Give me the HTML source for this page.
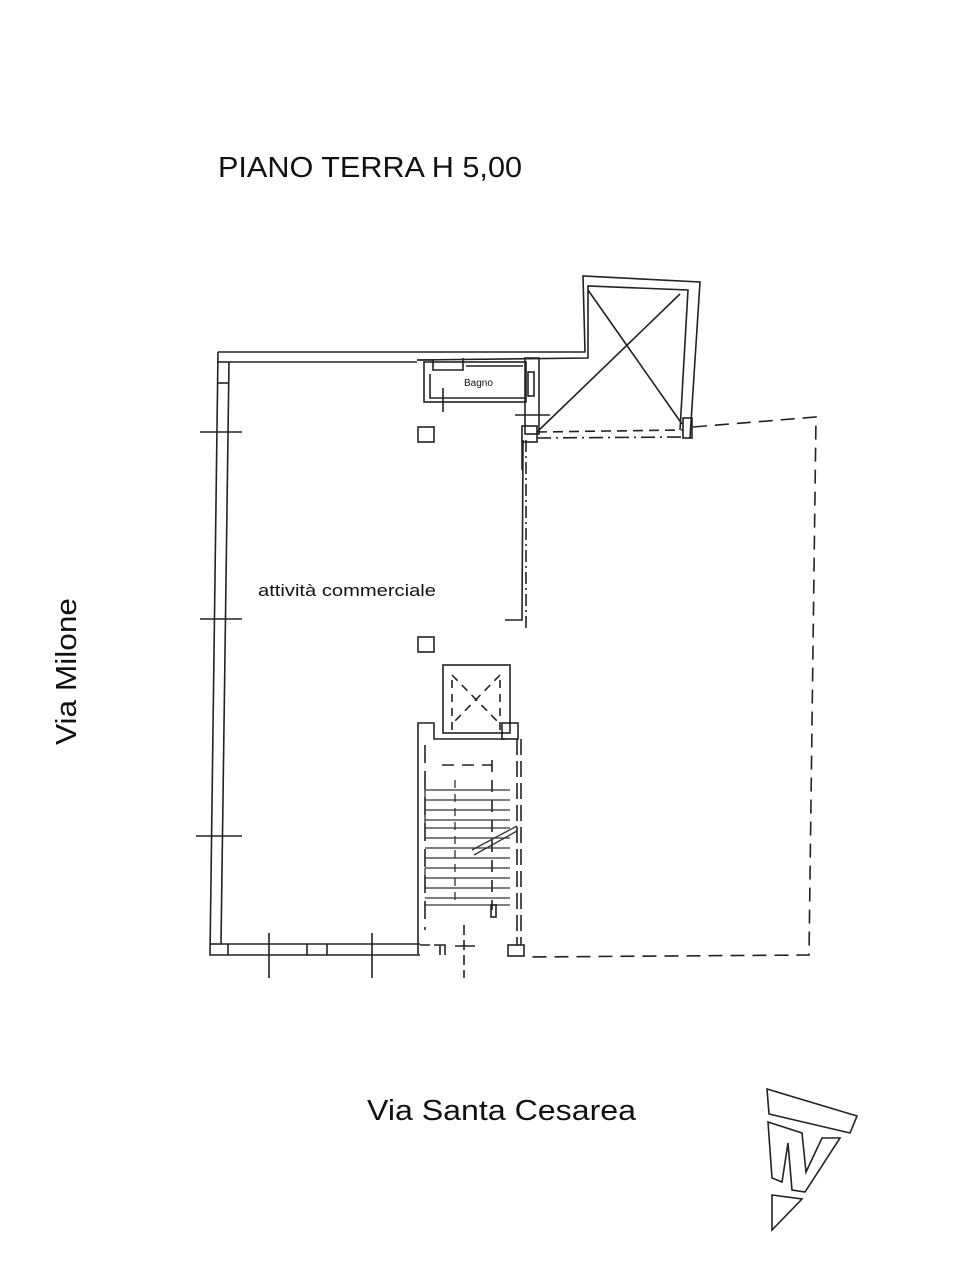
<!DOCTYPE html>
<html><head><meta charset="utf-8"><style>
html,body{margin:0;padding:0;background:#fff}
svg{display:block}
text{font-family:"Liberation Sans",sans-serif;fill:#111}
</style></head><body>
<svg width="960" height="1280" viewBox="0 0 960 1280" xmlns="http://www.w3.org/2000/svg">
<g fill="none" stroke="#222" stroke-width="1.6">
<path d="M218 352 L210 955 L420 955"/>
<path d="M229 362 L221 944 L420 944"/>
<path d="M218 352 L585 352 L583 276 L700 282 L690 438"/>
<path d="M229 362 L417 362 M417 360 L588 358 L588 286 L688 290 L680 430"/>
<line x1="218" y1="362" x2="229" y2="362"/>
<line x1="218" y1="383" x2="229" y2="383"/>
<line x1="210" y1="944" x2="221" y2="944"/>
<line x1="228" y1="944" x2="228" y2="955"/>
<line x1="307" y1="944" x2="307" y2="955"/>
<line x1="327" y1="944" x2="327" y2="955"/>
<line x1="200" y1="432" x2="242" y2="432"/>
<line x1="200" y1="619" x2="242" y2="619"/>
<line x1="196" y1="836" x2="242" y2="836"/>
<line x1="269" y1="933" x2="269" y2="978"/>
<line x1="372" y1="933" x2="372" y2="978"/>
<path d="M417 360 L433 360 L433 370 L463 370 L463 358"/>
<rect x="424" y="362" width="102" height="40"/>
<path d="M430 374 L430 398 L525 398"/>
<line x1="466" y1="366" x2="523" y2="366"/>
<rect x="525" y="358" width="14" height="76"/>
<rect x="528" y="372" width="6" height="24"/>
<line x1="443" y1="388" x2="443" y2="412"/>
<line x1="515" y1="415" x2="550" y2="415"/>
<rect x="522" y="426" width="15" height="16"/>
<line x1="522" y1="442" x2="522" y2="470"/>
<line x1="588" y1="290" x2="682" y2="424"/>
<line x1="680" y1="294" x2="537" y2="432"/>
<rect x="683" y="418" width="9" height="20"/>
<line x1="537" y1="432" x2="683" y2="430" stroke-dasharray="10,6"/>
<line x1="537" y1="438" x2="683" y2="437" stroke-dasharray="14,5,2,5"/>
<rect x="418" y="427" width="16" height="15"/>
<rect x="418" y="637" width="16" height="15"/>
<path d="M523 440 L522 620 L505 620"/>
<line x1="526" y1="440" x2="526" y2="630" stroke-dasharray="12,4,2,4"/>
<rect x="443" y="665" width="67" height="68"/>
<g stroke-dasharray="8,6">
<line x1="452" y1="675" x2="500" y2="724"/>
<line x1="500" y1="675" x2="452" y2="724"/>
<line x1="452" y1="680" x2="452" y2="730"/>
<line x1="500" y1="680" x2="500" y2="730"/>
</g>
<path d="M418 955 L418 723 L434 723 L434 739 L505 739"/>
<rect x="502" y="723" width="16" height="16"/>
<line x1="517" y1="739" x2="517" y2="945" stroke-dasharray="16,6"/>
<line x1="521" y1="739" x2="521" y2="945" stroke-dasharray="16,6"/>
<line x1="425" y1="745" x2="425" y2="930" stroke-dasharray="18,8"/>
<g stroke-dasharray="12,8">
<line x1="442" y1="765" x2="492" y2="765"/>
<line x1="492" y1="760" x2="492" y2="910"/>
</g>
<g stroke="#333" stroke-width="1.3">
<path d="M425 787 L425 800 M425 790 L510 790 M425 800 L510 800"/>
<path d="M425 810 L510 810 M425 820 L510 820 M425 810 L425 828 M425 828 L510 828"/>
<path d="M425 838 L510 838 M425 848 L510 848 M425 858 L510 858"/>
<path d="M425 868 L510 868 M425 878 L510 878 M425 868 L425 888"/>
<path d="M425 888 L510 888 M425 898 L510 898 M425 905 L510 905"/>
<line x1="455" y1="780" x2="455" y2="905" stroke-dasharray="8,6"/>
<line x1="472" y1="850" x2="517" y2="826"/>
<line x1="474" y1="855" x2="517" y2="831"/>
</g>
<rect x="491" y="905" width="5" height="12"/>
<path d="M420 945 L430 945 M434 945 L445 945 L445 955 M440 945 L440 955"/>
<line x1="464" y1="925" x2="464" y2="978" stroke-dasharray="10,5"/>
<line x1="455" y1="946" x2="475" y2="946"/>
<rect x="508" y="945" width="16" height="11"/>
<g stroke-dasharray="14,8">
<path d="M693 427 L816 417 L809 955 L525 957"/>
</g>
<path d="M767 1089 L857 1116 L850 1133 L769 1114 Z"/>
<path d="M768 1122 L802 1133 L806 1172 L822 1138 L840 1138 L805 1192 L792 1190 L788 1143 L782 1182 L772 1178 Z"/>
<path d="M772 1195 L772 1230 L802 1199 Z"/>
</g>
<text x="218" y="177" font-size="29" textLength="304" lengthAdjust="spacingAndGlyphs">PIANO TERRA H 5,00</text>
<text x="464" y="386" font-size="10">Bagno</text>
<text x="258" y="596" font-size="17" textLength="178" lengthAdjust="spacingAndGlyphs">attività commerciale</text>
<text x="0" y="0" font-size="29" textLength="147" lengthAdjust="spacingAndGlyphs" transform="translate(76,745) rotate(-90)">Via Milone</text>
<text x="367" y="1120" font-size="29" textLength="269" lengthAdjust="spacingAndGlyphs">Via Santa Cesarea</text>
</svg>
</body></html>
